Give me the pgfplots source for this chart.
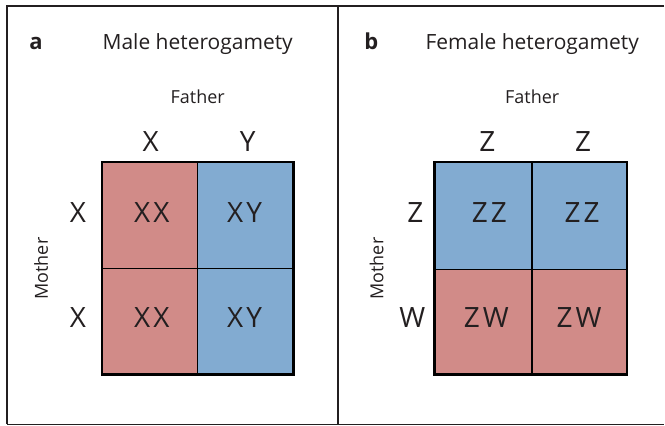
\documentclass[border=0pt]{standalone}
\usepackage{pgfplots}
\pgfplotsset{compat=1.18}
\usepackage{fontspec}
\setmainfont{Open Sans}
\definecolor{redc}{HTML}{D18B88}
\definecolor{bluec}{HTML}{82ABD1}
\definecolor{ink}{HTML}{231F20}
\begin{document}
\begin{tikzpicture}
\begin{axis}[
  scale only axis, width=665pt, height=426pt,
  xmin=0, xmax=665, ymin=0, ymax=426, y dir=reverse,
  hide axis, clip=false,
]
\addplot[draw=none] coordinates {(0,0) (665,426)};
% outer frame (open on the right)
\addplot[draw=ink, line width=2pt] coordinates {(665,6) (7,6) (7,425)};
\addplot[draw=ink, line width=1.2pt] coordinates {(7,425) (665,425)};
\addplot[draw=ink, line width=2pt] coordinates {(339,6) (339,425)};
% panel a cells
\addplot[fill=redc, draw=black, line width=1.5pt] coordinates {(102,162) (198,162) (198,269) (102,269)} -- cycle;
\addplot[fill=bluec, draw=black, line width=1.5pt] coordinates {(198,162) (294,162) (294,269) (198,269)} -- cycle;
\addplot[fill=redc, draw=black, line width=1.5pt] coordinates {(102,269) (198,269) (198,375) (102,375)} -- cycle;
\addplot[fill=bluec, draw=black, line width=1.5pt] coordinates {(198,269) (294,269) (294,375) (198,375)} -- cycle;
\addplot[draw=black, line width=2.5pt] coordinates {(102,162) (294,162) (294,375) (102,375)} -- cycle;
% panel b cells
\addplot[fill=bluec, draw=black, line width=1.5pt] coordinates {(435,162) (533,162) (533,270) (435,270)} -- cycle;
\addplot[fill=bluec, draw=black, line width=1.5pt] coordinates {(533,162) (628,162) (628,270) (533,270)} -- cycle;
\addplot[fill=redc, draw=black, line width=1.5pt] coordinates {(435,270) (533,270) (533,375) (435,375)} -- cycle;
\addplot[fill=redc, draw=black, line width=1.5pt] coordinates {(533,270) (628,270) (628,375) (533,375)} -- cycle;
\addplot[draw=black, line width=2.5pt] coordinates {(435,162) (628,162) (628,375) (435,375)} -- cycle;
\begin{scope}[every node/.style={text=ink, inner sep=0pt}]
% texts panel a
\node[anchor=base, font=\fontsize{22}{24}\selectfont\bfseries] at (axis cs:36,50) {a};
\node[anchor=base, font=\fontsize{21}{24}\selectfont] at (axis cs:198,50) {Male heterogamety};
\node[anchor=base, font=\fontsize{18}{20}\selectfont] at (axis cs:198,104) {Father};
\node[anchor=base, font=\fontsize{28}{30}\selectfont] at (axis cs:151,152) {X};
\node[anchor=base, font=\fontsize{28}{30}\selectfont] at (axis cs:248,152) {Y};
\node[anchor=base, font=\fontsize{28}{30}\selectfont] at (axis cs:78,223) {X};
\node[anchor=base, font=\fontsize{28}{30}\selectfont] at (axis cs:78,328) {X};
\node[anchor=base, font=\fontsize{28}{30}\selectfont] at (axis cs:152,223) {X\kern3ptX};
\node[anchor=base, font=\fontsize{28}{30}\selectfont] at (axis cs:245,223) {X\kern3ptY};
\node[anchor=base, font=\fontsize{28}{30}\selectfont] at (axis cs:152,328) {X\kern3ptX};
\node[anchor=base, font=\fontsize{28}{30}\selectfont] at (axis cs:245,328) {X\kern3ptY};
\node[anchor=base, rotate=90, font=\fontsize{18}{20}\selectfont] at (axis cs:48,269) {Mother};
% texts panel b
\node[anchor=base, font=\fontsize{22}{24}\selectfont\bfseries] at (axis cs:372,50) {b};
\node[anchor=base, font=\fontsize{21}{24}\selectfont] at (axis cs:533,50) {Female heterogamety};
\node[anchor=base, font=\fontsize{18}{20}\selectfont] at (axis cs:533,104) {Father};
\node[anchor=base, font=\fontsize{28}{30}\selectfont] at (axis cs:488,152) {Z};
\node[anchor=base, font=\fontsize{28}{30}\selectfont] at (axis cs:584,152) {Z};
\node[anchor=base, font=\fontsize{28}{30}\selectfont] at (axis cs:416,223) {Z};
\node[anchor=base, font=\fontsize{28}{30}\selectfont] at (axis cs:413,328) {W};
\node[anchor=base, font=\fontsize{28}{30}\selectfont] at (axis cs:490,223) {Z\kern3ptZ};
\node[anchor=base, font=\fontsize{28}{30}\selectfont] at (axis cs:583,223) {Z\kern3ptZ};
\node[anchor=base, font=\fontsize{28}{30}\selectfont] at (axis cs:487,328) {Z\kern3ptW};
\node[anchor=base, font=\fontsize{28}{30}\selectfont] at (axis cs:580,328) {Z\kern3ptW};
\node[anchor=base, rotate=90, font=\fontsize{18}{20}\selectfont] at (axis cs:384,269) {Mother};
\end{scope}
\end{axis}
\end{tikzpicture}
\end{document}
